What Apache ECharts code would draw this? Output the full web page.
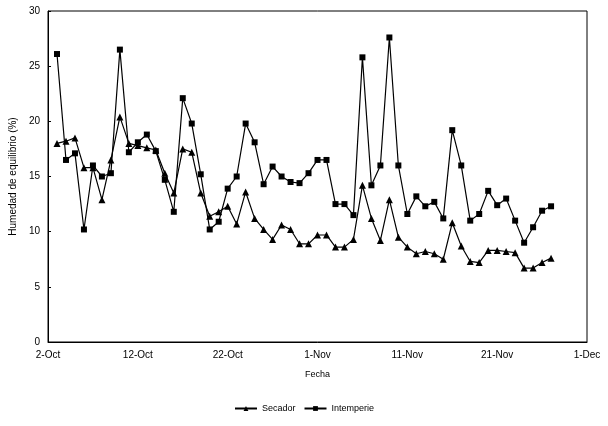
<!DOCTYPE html><html><head><meta charset="utf-8"><script src="https://cdn.jsdelivr.net/npm/echarts@6/dist/echarts.min.js"></script></head><body style="margin:0;background:#fff"><div id="c" style="width:608px;height:426px"></div><script>
const tickLabels=['2-Oct','12-Oct','22-Oct','1-Nov','11-Nov','21-Nov','1-Dec'];
const secador=[18.0,18.2,18.5,15.8,15.8,12.9,16.5,20.4,18.0,17.8,17.6,17.4,15.3,13.5,17.5,17.2,13.5,11.4,11.8,12.3,10.7,13.6,11.2,10.2,9.3,10.6,10.2,8.9,8.9,9.7,9.7,8.6,8.6,9.3,14.2,11.2,9.2,12.9,9.5,8.6,8.0,8.2,8.0,7.5,10.8,8.7,7.3,7.2,8.3,8.3,8.2,8.1,6.7,6.7,7.2,7.6];
const intemperie=[26.1,16.5,17.1,10.2,16.0,15.0,15.3,26.5,17.2,18.1,18.8,17.3,14.7,11.8,22.1,19.8,15.2,10.2,10.9,13.9,15.0,19.8,18.1,14.3,15.9,15.0,14.5,14.4,15.3,16.5,16.5,12.5,12.5,11.5,25.8,14.2,16.0,27.6,16.0,11.6,13.2,12.3,12.7,11.2,19.2,16.0,11.0,11.6,13.7,12.4,13.0,11.0,9.0,10.4,11.9,12.3];
const pts=a=>a.map((v,i)=>[i+1,v]);
const ch=echarts.init(document.getElementById('c'));
const ls={color:'#000',width:1.2};
ch.setOption({animation:false,textStyle:{fontFamily:'Liberation Sans'},
grid:{left:47,right:21,top:11,bottom:84,show:true,borderColor:'#000',borderWidth:1},
xAxis:{type:'value',min:0,max:60,interval:10,name:'Fecha',nameLocation:'middle',nameGap:28,nameTextStyle:{fontSize:9,color:'#000'},
axisLine:{lineStyle:{color:'#000'}},axisTick:{show:false},splitLine:{show:false},
axisLabel:{fontSize:10,color:'#000',formatter:v=>tickLabels[v/10]}},
yAxis:{type:'value',min:0,max:30,interval:5,name:'Humedad de equilibrio (%)',nameLocation:'middle',nameGap:27,nameTextStyle:{fontSize:10,color:'#000'},
axisLine:{show:true,lineStyle:{color:'#000'}},axisTick:{show:true,inside:true,length:3},splitLine:{show:false},axisLabel:{fontSize:10,color:'#000'}},
legend:{bottom:8,left:'center',itemWidth:22,itemHeight:6,itemGap:8,textStyle:{fontSize:9,color:'#000'},data:['Secador','Intemperie']},
series:[
{name:'Secador',type:'line',data:pts(secador),symbol:'triangle',symbolSize:7,lineStyle:ls,itemStyle:{color:'#000'}},
{name:'Intemperie',type:'line',data:pts(intemperie),symbol:'rect',symbolSize:6,lineStyle:ls,itemStyle:{color:'#000'}}
]});
</script></body></html>
